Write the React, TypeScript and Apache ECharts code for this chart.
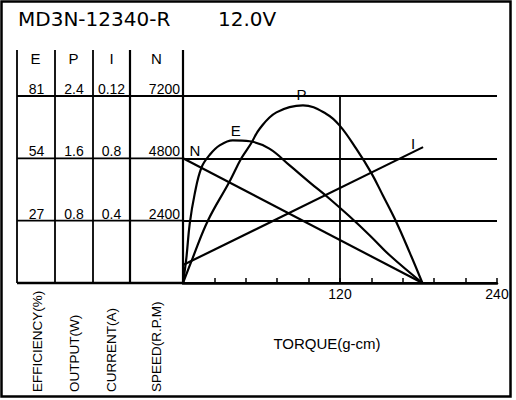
import { useEffect, useRef } from "react";
import * as echarts from "echarts";

// tick labels (the "0.12" typo is in the original sheet)
const torqueTicks = [120, 240];
const effTicks = ["27", "54", "81"];
const outTicks = ["0.8", "1.6", "2.4"];
const curTicks = ["0.4", "0.8", "0.12"];
const spdTicks = ["2400", "4800", "7200"];

// E - efficiency (%)
const effTorque = [0, 2.6, 5.1, 8.9, 14.1, 20.4, 28, 38, 51, 66, 82, 97, 112, 127, 143, 158, 183];
const effValues = [0, 11, 25.5, 38.5, 50, 55.5, 59.6, 61.8, 61.4, 58.2, 50.7, 43.5, 36.5, 29, 20.5, 12, 0];

// P - output (W)
const outTorque = [0, 7.6, 19, 35.5, 44.6, 52, 58.6, 71.4, 91.7, 109.6, 119.8, 132.5, 144, 152.9, 163.1, 173.3, 183];
const outValues = [0, 0.33, 0.8, 1.3, 1.6, 1.79, 1.98, 2.19, 2.28, 2.17, 2.02, 1.72, 1.41, 1.12, 0.78, 0.39, 0];

// I - current (A)
const curTorque = [0, 183.5];
const curValues = [0.115, 0.872];

// N - speed (rpm)
const spdTorque = [0, 183];
const spdValues = [4800, 0];

const FONT = "Liberation Sans";
const GRID_LEFT = 183;
const GRID_RIGHT = 497;
const GRID_TOP = 96;
const GRID_BOTTOM = 283;
const TABLE_LEFT = 17;
const TABLE_TOP = 50;
const colLines = [17, 55, 93, 130, 183];

const pairs = (xs: number[], ys: number[]) => xs.map((x, i) => [x, ys[i]]);

const tickLabel = (labels: string[], step: number) => (v: number) => {
  const i = Math.round(v / step) - 1;
  return i >= 0 && i < labels.length ? labels[i] : "";
};

const App = () => {
  const chartRef = useRef<HTMLDivElement>(null);

  useEffect(() => {
    document.body.style.margin = "0";
    if (!chartRef.current) return;
    const chart = echarts.init(chartRef.current, null, { renderer: "svg" });

    const rowH = (GRID_BOTTOM - GRID_TOP) / 3;
    const rows = [0, 1, 2, 3].map((i) => GRID_TOP + i * rowH);

    const line = (x1: number, y1: number, x2: number, y2: number, w = 1.8) => ({
      type: "line",
      silent: true,
      shape: { x1, y1, x2, y2 },
      style: { stroke: "#000", lineWidth: w },
    });

    const text = (
      t: string,
      x: number,
      y: number,
      size: number,
      align = "center",
      rotation = 0,
      family = FONT
    ) => ({
      type: "text",
      silent: true,
      x,
      y,
      rotation,
      style: {
        text: t,
        fill: "#000",
        fontSize: size,
        fontFamily: family,
        align,
        textAlign: align,
        verticalAlign: "middle",
        textVerticalAlign: "middle",
      },
    });

    const labelStyle = { color: "#000", fontSize: 14, fontFamily: FONT };

    const yAxisBase = (max: number, step: number, labels: string[], margin: number, align: string) => ({
      type: "value" as const,
      position: "left" as const,
      offset: 0,
      min: 0,
      max,
      interval: step,
      axisLine: { show: false },
      axisTick: { show: false },
      splitLine: { show: false },
      axisLabel: {
        ...labelStyle,
        align,
        verticalAlign: "bottom",
        margin,
        formatter: tickLabel(labels, step),
      },
    });

    const peakE = effValues.indexOf(Math.max(...effValues));
    const peakP = outValues.indexOf(Math.max(...outValues));

    const curveLabel = (name: string, coord: number[], offset: number[]) => ({
      silent: true,
      symbol: "circle",
      symbolSize: 0,
      label: {
        show: true,
        position: "inside",
        offset,
        formatter: name,
        color: "#000",
        fontSize: 15,
        fontFamily: FONT,
      },
      data: [{ coord }],
    });

    const seriesLine = { color: "#000", width: 2.2 };

    chart.setOption({
      animation: false,
      backgroundColor: "#fff",
      grid: {
        left: GRID_LEFT,
        top: GRID_TOP,
        width: GRID_RIGHT - GRID_LEFT,
        height: GRID_BOTTOM - GRID_TOP,
      },
      xAxis: {
        type: "value",
        min: 0,
        max: 240,
        interval: 24,
        axisLine: { lineStyle: { color: "#000", width: 2.5 } },
        axisTick: { inside: true, length: 5, lineStyle: { color: "#000", width: 1.5 } },
        splitLine: { show: false },
        axisLabel: {
          ...labelStyle,
          margin: 4,
          showMaxLabel: true,
          formatter: (v: number) => (torqueTicks.includes(v) ? String(v) : ""),
        },
      },
      yAxis: [
        yAxisBase(81, 27, effTicks, GRID_LEFT - 36.5, "center"),
        yAxisBase(2.4, 0.8, outTicks, GRID_LEFT - 74, "center"),
        yAxisBase(1.2, 0.4, curTicks, GRID_LEFT - 111.5, "center"),
        {
          ...yAxisBase(7200, 2400, spdTicks, 3, "right"),
          splitLine: { show: true, lineStyle: { color: "#000", width: 1.8 } },
        },
      ],
      series: [
        {
          name: "E",
          type: "line",
          yAxisIndex: 0,
          smooth: 0.4,
          showSymbol: false,
          lineStyle: seriesLine,
          data: pairs(effTorque, effValues),
          markPoint: curveLabel("E", [effTorque[peakE], effValues[peakE]], [3, -10]),
        },
        {
          name: "P",
          type: "line",
          yAxisIndex: 1,
          smooth: 0.4,
          showSymbol: false,
          lineStyle: seriesLine,
          data: pairs(outTorque, outValues),
          markPoint: curveLabel("P", [outTorque[peakP], outValues[peakP]], [-1.5, -11]),
        },
        {
          name: "I",
          type: "line",
          yAxisIndex: 2,
          showSymbol: false,
          lineStyle: seriesLine,
          data: pairs(curTorque, curValues),
          markPoint: curveLabel("I", [curTorque[1], curValues[1]], [-10, -4]),
        },
        {
          name: "N",
          type: "line",
          yAxisIndex: 3,
          showSymbol: false,
          lineStyle: seriesLine,
          data: pairs(spdTorque, spdValues),
          markPoint: curveLabel("N", [spdTorque[0], spdValues[0]], [12, -8]),
          markLine: {
            silent: true,
            symbol: ["none", "none"],
            label: { show: false },
            lineStyle: { color: "#000", width: 1.8, type: "solid" },
            data: [{ xAxis: 120 }],
          },
        },
      ],
      graphic: [
        {
          type: "rect",
          silent: true,
          shape: { x: 1.5, y: 1.5, width: 509, height: 395 },
          style: { fill: "none", stroke: "#000", lineWidth: 2.5 },
        },
        ...colLines.map((x) => line(x, TABLE_TOP, x, GRID_BOTTOM, x === 130 || x === 183 ? 2.2 : 1.8)),
        ...rows.map((y, i) => line(TABLE_LEFT, y, GRID_LEFT, y, i === 3 ? 2.5 : 1.8)),
        text("MD3N-12340-R", 18, 19, 20, "left", 0, "DejaVu Sans"),
        text("12.0V", 218, 19, 20, "left", 0, "DejaVu Sans"),
        text("E", 35.5, 58, 15),
        text("P", 73.5, 58, 15),
        text("I", 111.5, 58, 15),
        text("N", 156.5, 58, 15),
        text("EFFICIENCY(%)", 37.5, 392, 13.5, "left", Math.PI / 2),
        text("OUTPUT(W)", 74, 392, 13.5, "left", Math.PI / 2),
        text("CURRENT(A)", 111.5, 392, 13.5, "left", Math.PI / 2),
        text("SPEED(R.P.M)", 156.5, 392, 13.5, "left", Math.PI / 2),
        text("TORQUE(g-cm)", 327, 343, 15),
      ],
    });

    return () => chart.dispose();
  }, []);

  return <div ref={chartRef} style={{ width: 516, height: 400 }} />;
};

export default App;
